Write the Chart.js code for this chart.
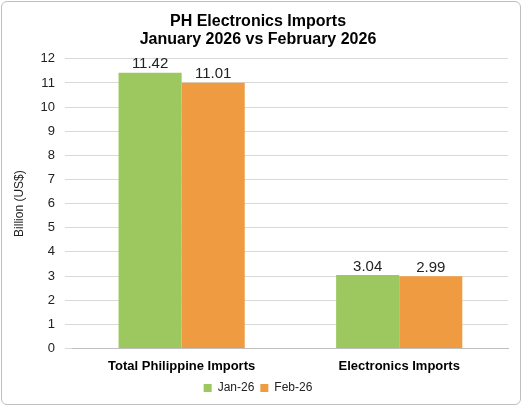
<!DOCTYPE html>
<html><head><meta charset="utf-8">
<script src="https://cdn.jsdelivr.net/npm/chart.js@4"></script>
<style>
html,body{margin:0;padding:0;background:#fff;}
#wrap{position:absolute;left:1px;top:1px;width:520px;height:404px;border:1px solid #bfbfbf;border-radius:6px;box-sizing:border-box;}
canvas{display:block;}
</style></head><body>
<div id="wrap"><canvas id="c"></canvas></div>
<script>
const categories = ["Total Philippine Imports", "Electronics Imports"];
const seriesNames = ["Jan-26", "Feb-26"];
const jan26 = [11.42, 3.04];
const feb26 = [11.01, 2.99];
const yTicks = [0,1,2,3,4,5,6,7,8,9,10,11,12];

const labelPlugin = {
  id: 'vals',
  afterDatasetsDraw(chart) {
    const ctx = chart.ctx;
    ctx.save();
    ctx.font = '15px "Liberation Sans", Arial, sans-serif';
    ctx.fillStyle = '#222';
    ctx.textAlign = 'center';
    ctx.textBaseline = 'bottom';
    chart.data.datasets.forEach((ds, i) => {
      chart.getDatasetMeta(i).data.forEach((bar, j) => {
        ctx.fillText(ds.data[j].toFixed(2), bar.x, bar.y - 1);
      });
    });
    ctx.restore();
  }
};

new Chart(document.getElementById('c'), {
  type: 'bar',
  data: {
    labels: categories,
    datasets: [
      { label: seriesNames[0], data: jan26, backgroundColor: '#9dc85f' },
      { label: seriesNames[1], data: feb26, backgroundColor: '#ef9b41' }
    ]
  },
  options: {
    responsive: true, maintainAspectRatio: false, animation: false,
    layout: { padding: { left: 6, right: 12, top: 6, bottom: 0 } },
    categoryPercentage: 0.58, barPercentage: 1.0,
    plugins: {
      title: { display: true, text: ['PH Electronics Imports', 'January 2026 vs February 2026'],
        color: '#000', font: { family: '"Liberation Sans", Arial', size: 16, weight: 'bold', lineHeight: 1.15 }, padding: { top: 4, bottom: 10 } },
      legend: { position: 'bottom', labels: { boxWidth: 8, boxHeight: 8, color: '#222',
        font: { family: '"Liberation Sans", Arial', size: 12 }, padding: 6 } },
      tooltip: { enabled: false }
    },
    scales: {
      x: { grid: { display: false }, border: { color: '#bfbfbf' },
        ticks: { color: '#000', padding: 2, font: { family: '"Liberation Sans", Arial', size: 13, weight: 'bold' } } },
      y: { min: 0, max: 12, afterBuildTicks: a => { a.ticks = yTicks.map(v => ({ value: v })); },
        grid: { color: '#d9d9d9' }, border: { display: false },
        ticks: { color: '#222', font: { family: '"Liberation Sans", Arial', size: 13 }, padding: 10 },
        title: { display: true, text: 'Billion (US$)', color: '#222', font: { family: '"Liberation Sans", Arial', size: 12 } } }
    }
  },
  plugins: [labelPlugin]
});
</script></body></html>
